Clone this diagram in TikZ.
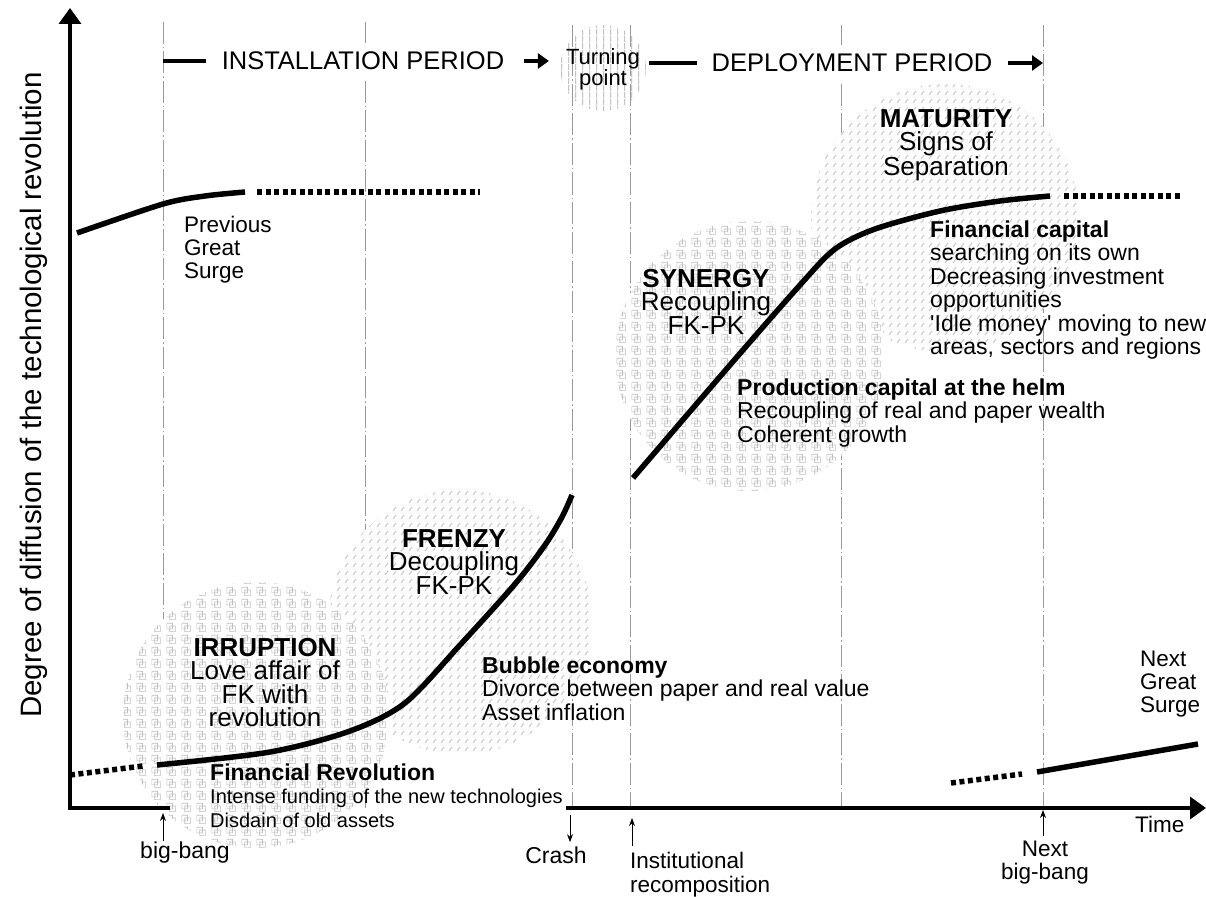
\documentclass[tikz,border=0pt]{standalone}
\usepackage{fontspec}
\setmainfont{Liberation Sans}
\usetikzlibrary{arrows.meta,patterns}

\pgfdeclarepatternformonly{squarelets}{\pgfqpoint{0pt}{0pt}}{\pgfqpoint{15pt}{12pt}}{\pgfqpoint{15pt}{12pt}}{%
  \pgfsetlinewidth{0.7pt}%
  \pgfpathrectangle{\pgfqpoint{2pt}{4.5pt}}{\pgfqpoint{6pt}{6pt}}%
  \pgfpathrectangle{\pgfqpoint{5pt}{1.5pt}}{\pgfqpoint{6pt}{6pt}}%
  \pgfusepath{stroke}}
\pgfdeclarepatternformonly{slashlets}{\pgfqpoint{0pt}{0pt}}{\pgfqpoint{8pt}{8pt}}{\pgfqpoint{8pt}{8pt}}{%
  \pgfsetlinewidth{0.9pt}%
  \pgfpathmoveto{\pgfqpoint{1pt}{1pt}}%
  \pgfpathlineto{\pgfqpoint{4.5pt}{5.5pt}}%
  \pgfusepath{stroke}}
\pgfdeclarepatternformonly{vstripes}{\pgfqpoint{0pt}{0pt}}{\pgfqpoint{6.5pt}{7pt}}{\pgfqpoint{6.5pt}{7pt}}{%
  \pgfsetlinewidth{0.8pt}%
  \pgfpathmoveto{\pgfqpoint{3pt}{0pt}}%
  \pgfpathlineto{\pgfqpoint{3pt}{7pt}}%
  \pgfusepath{stroke}}

\begin{document}
\begin{tikzpicture}[x=1pt, y=-1pt,
  guide/.style={gray!80, line width=0.7pt, dash pattern=on 22pt off 3pt on 1.5pt off 3pt},
  blob/.style={preaction={fill=white}, pattern color=gray!50},
  axis/.style={line width=3.5pt},
  curve/.style={line width=5.5pt},
  dotcurve/.style={line width=5.5pt, dash pattern=on 5pt off 3.5pt},
  hdr/.style={fill=white, inner xsep=4pt, inner ysep=9pt, font=\fontsize{25.5}{26}\selectfont},
  headbar/.style={line width=4pt},
  headarrow/.style={line width=4pt, -{Triangle[length=11pt,width=15pt]}},
  phase/.style={inner sep=0pt, align=center, font=\fontsize{26}{23.5}\selectfont},
  lbl/.style={inner sep=0pt, align=left, font=\fontsize{23}{23.5}\selectfont},
  pointer/.style={line width=0.9pt, -{Stealth[length=8pt,width=6pt]}}]
\useasboundingbox (0,0) rectangle (1206,896);

\foreach \gx/\gy [count=\i] in {163/22,365/22,572/25,630/25,841/25,1043/25}
  \coordinate (g\i) at (\gx,\gy);
\coordinate (O) at (70,808);
\foreach \i in {1,...,6}
  \draw[guide] (g\i) -- (g\i |- O);

\path[blob, pattern=slashlets] (460,622) circle (132);
\path[blob, pattern=squarelets] (256,715) circle (133);
\path[blob, pattern=slashlets] (945,218) circle (134);
\path[blob, pattern=squarelets] (750,356) circle (135);
\path[pattern=vstripes, pattern color=gray!70] (603,68) circle (43);

\draw[axis, {Triangle[length=16pt,width=22pt]}-] (70,8) -- (O) -- (170,808);
\draw[axis, -{Triangle[length=16pt,width=22pt]}] (566,808) -- (1206,808);

\draw[curve] plot[smooth] coordinates {(77,233) (163,204) (205,196) (245,192)};
\draw[dotcurve] (257,192) -- (480,192);
\draw[dotcurve] (70,775) -- (143,766);
\draw[curve] plot[smooth] coordinates {(157,765) (270,752) (350,731) (405,703) (460,645) (515,584) (545,545) (562,517) (572,495)};
\draw[curve] plot[smooth] coordinates {(633,478) (730,365) (800,285) (835,249) (875,229) (940,211) (1000,201) (1050,196)};
\draw[dotcurve] (1064,196) -- (1180,196);
\draw[dotcurve] (951,783) -- (1022,774);
\draw[curve] (1037,772) -- (1198,744);

\node[hdr] (install) at (363,61) {INSTALLATION PERIOD};
\node[hdr] (deploy) at (852,63) {DEPLOYMENT PERIOD};
\node[phase, font=\fontsize{22}{21}\selectfont, anchor=north] (turn) at (603,48) {Turning\\point};
\draw[headbar, shorten >=12pt] (g1 |- install) -- (install.west);
\draw[headarrow, shorten <=16pt, shorten >=17pt] (install.east) -- (install.east -| turn.west);
\draw[headbar, shorten <=9pt, shorten >=11pt] (deploy -| turn.east) -- (deploy.west);
\draw[headarrow, shorten <=12pt] (deploy.east) -- (deploy -| g6);

\node[phase, anchor=north] (irruption) at (265,638) {\textbf{IRRUPTION}\\Love affair of\\FK with\\revolution};
\node[phase, anchor=north] (frenzy) at (454,529) {\textbf{FRENZY}\\Decoupling\\FK-PK};
\node[phase, anchor=north] (synergy) at (706,269) {\textbf{SYNERGY}\\Recoupling\\FK-PK};
\node[phase, anchor=north] (maturity) at (946,109) {\textbf{MATURITY}\\Signs of\\Separation};

\node[lbl, font=\fontsize{22.5}{23}\selectfont, anchor=north west] (prevsurge) at (184,216) {Previous\\Great\\Surge};
\node[lbl, font=\fontsize{22.5}{23}\selectfont, anchor=north west] (nextsurge) at (1140,651) {Next\\Great\\Surge};

\node[lbl, anchor=north west, font=\fontsize{20}{23.5}\selectfont] (finrev) at (210,763.5) {{\bfseries\fontsize{23}{23.5}\selectfont Financial Revolution}\\Intense funding of the new technologies\\Disdain of old assets};
\node[lbl, anchor=north west] (bubble) at (482,656.5) {\textbf{Bubble economy}\\Divorce between paper and real value\\Asset inflation};
\node[lbl, anchor=north west] (prodcap) at (737,378.5) {\textbf{Production capital at the helm}\\Recoupling of real and paper wealth\\Coherent growth};
\node[lbl, anchor=north west] (fincap) at (930,220.5) {\textbf{Financial capital}\\searching on its own\\Decreasing investment\\opportunities\\\textquotesingle Idle money\textquotesingle\ moving to new\\areas, sectors and regions};

\node[lbl, anchor=base west, font=\fontsize{22.5}{23}\selectfont] (time) at (1135,832) {Time};
\node[lbl, anchor=base] (bigbang) at (185,858) {big-bang};
\node[lbl, anchor=base] (crash) at (556,863) {Crash};
\node[lbl, anchor=north west, font=\fontsize{22.5}{24}\selectfont] (instrec) at (630,851.5) {Institutional\\recomposition};
\node[phase, font=\fontsize{22.5}{23}\selectfont, anchor=north] (nextbang) at (1045,840.5) {Next\\big-bang};

\coordinate (bbtip) at (163,813);
\draw[pointer] (bigbang.north -| bbtip) -- (bbtip);
\coordinate (crashtop) at (570,815);
\draw[pointer, shorten >=4pt] (crashtop) -- (crashtop |- crash.north);
\coordinate (irtip) at (632,818);
\draw[pointer, shorten <=6pt] (instrec.north -| irtip) -- (irtip);
\coordinate (nbtip) at (1043,810);
\draw[pointer, shorten <=5pt] (nextbang.north -| nbtip) -- (nbtip);

\node[rotate=90, anchor=base, inner sep=0pt, font=\fontsize{29.5}{30}\selectfont] (ylabel) at (41,395) {Degree of diffusion of the technological revolution};
\end{tikzpicture}
\end{document}
